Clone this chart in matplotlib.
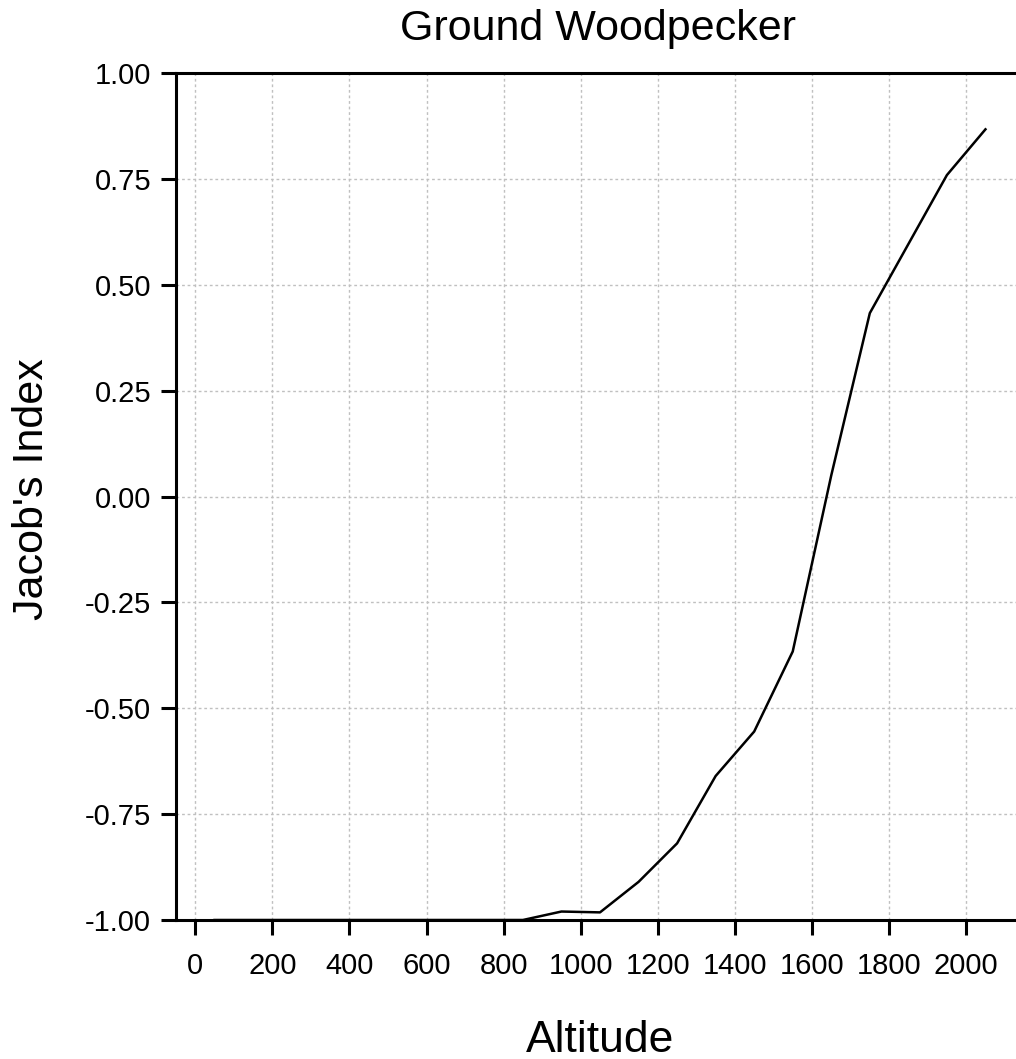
import numpy as np
import matplotlib
matplotlib.use("Agg")
import matplotlib.pyplot as plt

plt.rcParams['font.family'] = ['Liberation Sans', 'DejaVu Sans']

# altitude band midpoints and the index value in each band
altitude = [50, 150, 250, 350, 450, 550, 650, 750, 850, 950, 1050,
            1150, 1250, 1350, 1450, 1550, 1650, 1750, 1850, 1950, 2050]
jacobs = [-1.0, -1.0, -1.0, -1.0, -1.0, -1.0, -1.0, -1.0, -1.0, -0.98, -0.982,
          -0.91, -0.819, -0.66, -0.555, -0.366, 0.05, 0.433, 0.596, 0.759, 0.867]

x_ticks = np.arange(0, 2001, 200)
y_ticks = [-1.0, -0.75, -0.5, -0.25, 0.0, 0.25, 0.5, 0.75, 1.0]

W, H = 1016, 1059
fig = plt.figure(figsize=(W / 100, H / 100), dpi=100)
ax = fig.add_axes([176 / W, 139 / H, 848 / W, 847 / H])

# keep the curve under the spines so the flat stretch at -1 hides in the axis
ax.plot(altitude, jacobs, color='black', lw=1.8, zorder=2)

ax.set_xlim(-50, 2150)
ax.set_ylim(-1.0, 1.0)
ax.set_xticks(x_ticks)
ax.set_yticks(y_ticks)
ax.set_yticklabels(['%.2f' % v for v in y_ticks])

ax.grid(True, color='#c0c0c0', linestyle=(0, (2, 2)), linewidth=1.0)
ax.set_axisbelow(True)

for side in ['left', 'bottom', 'top']:
    ax.spines[side].set_linewidth(2.2)
ax.spines['right'].set_visible(False)

ax.tick_params(axis='both', direction='out', length=11, width=2.2,
               labelsize=21, colors='black')
ax.tick_params(axis='x', pad=12)
ax.tick_params(axis='y', pad=7)

fig.text(598 / W, 1 - 40 / H, 'Ground Woodpecker', fontsize=31,
         ha='center', va='baseline')
fig.text(600 / W, 1 - 1052 / H, 'Altitude', fontsize=32,
         ha='center', va='baseline')
fig.text(43 / W, 1 - 489 / H, "Jacob's Index", fontsize=31, rotation=90,
         rotation_mode='anchor', ha='center', va='baseline')

fig.savefig('out.png', dpi=100)
